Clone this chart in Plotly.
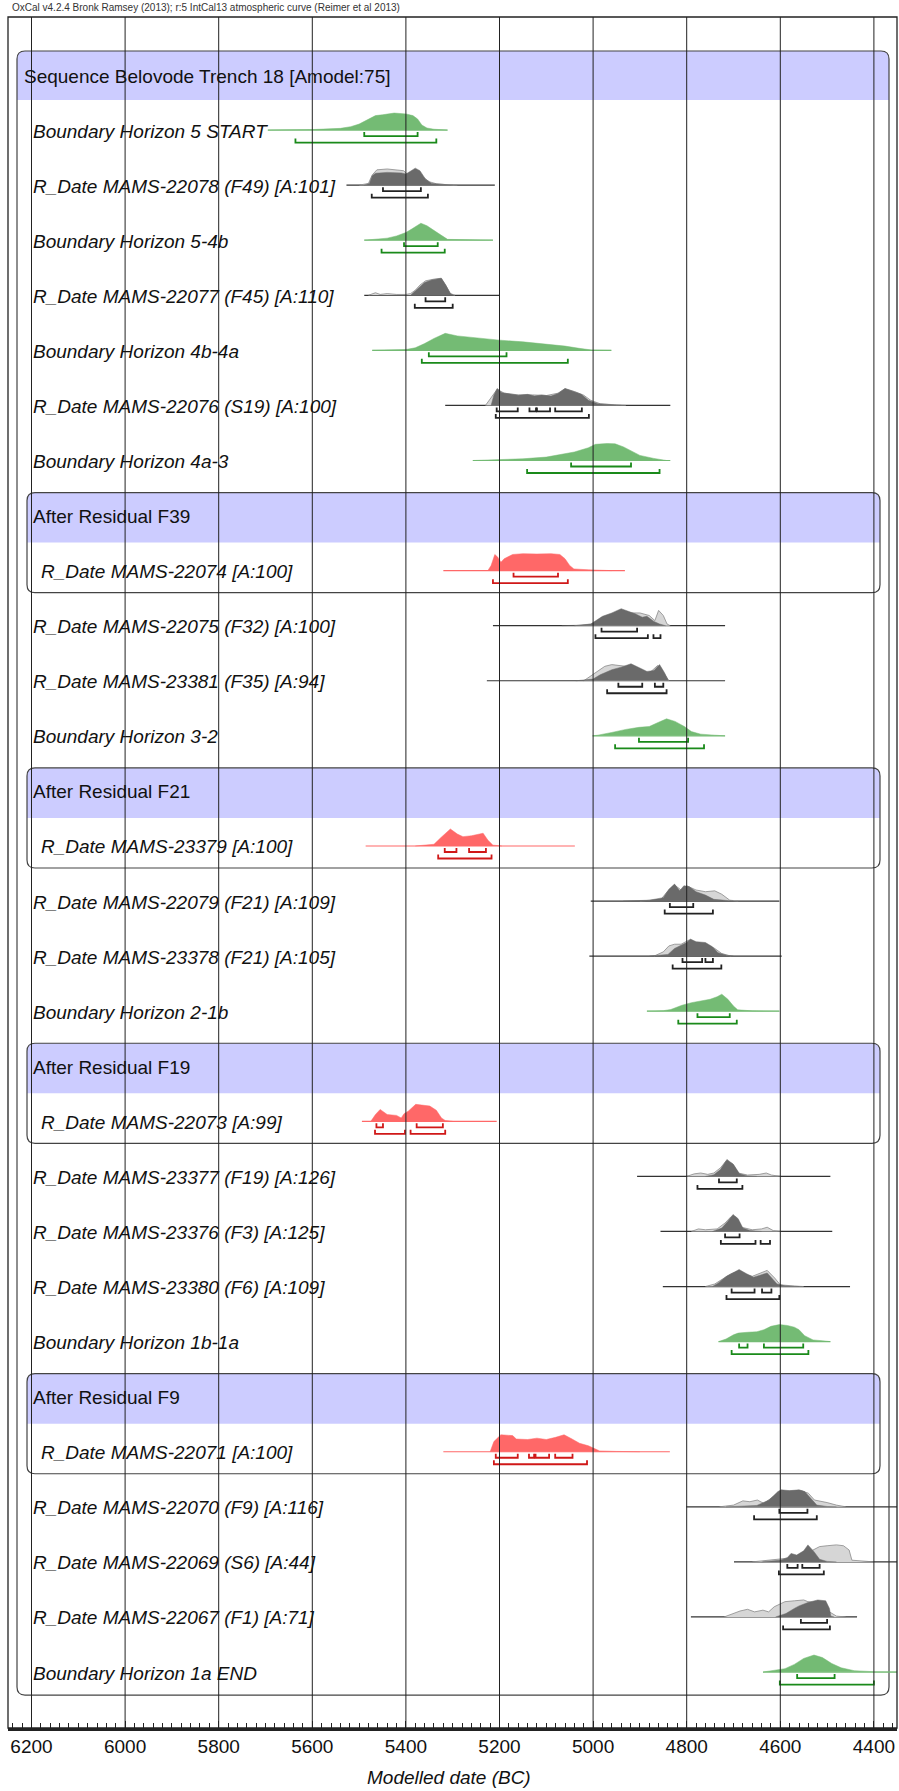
import plotly.graph_objects as go

# ------------------------------------------------------------------ data
slot_labels = [
    "Sequence Belovode Trench 18 [Amodel:75]",
    "Boundary Horizon 5 START",
    "R_Date MAMS-22078 (F49) [A:101]",
    "Boundary Horizon 5-4b",
    "R_Date MAMS-22077 (F45) [A:110]",
    "Boundary Horizon 4b-4a",
    "R_Date MAMS-22076 (S19) [A:100]",
    "Boundary Horizon 4a-3",
    "After Residual F39",
    "R_Date MAMS-22074 [A:100]",
    "R_Date MAMS-22075 (F32) [A:100]",
    "R_Date MAMS-23381 (F35) [A:94]",
    "Boundary Horizon 3-2",
    "After Residual F21",
    "R_Date MAMS-23379 [A:100]",
    "R_Date MAMS-22079 (F21) [A:109]",
    "R_Date MAMS-23378 (F21) [A:105]",
    "Boundary Horizon 2-1b",
    "After Residual F19",
    "R_Date MAMS-22073 [A:99]",
    "R_Date MAMS-23377 (F19) [A:126]",
    "R_Date MAMS-23376 (F3) [A:125]",
    "R_Date MAMS-23380 (F6) [A:109]",
    "Boundary Horizon 1b-1a",
    "After Residual F9",
    "R_Date MAMS-22071 [A:100]",
    "R_Date MAMS-22070 (F9) [A:116]",
    "R_Date MAMS-22069 (S6) [A:44]",
    "R_Date MAMS-22067 (F1) [A:71]",
    "Boundary Horizon 1a END",
]
# seq = sequence header, A = After header, B = boundary, R = date, AR = date inside After
slot_kinds = ["seq", "B", "R", "B", "R", "B", "R", "B",
              "A", "AR", "R", "R", "B",
              "A", "AR", "R", "R", "B",
              "A", "AR", "R", "R", "R", "B",
              "A", "AR", "R", "R", "R", "B"]

# per-item data (one entry per non-header slot, in order)
baseline_range = [
    (5695, 5311), (5527, 5210), (5489, 5214), (5489, 5200), (5472, 4961),
    (5316, 4835), (5257, 4835), (5320, 4932), (5214, 4718), (5227, 4718),
    (5001, 4718), (5486, 5039), (5005, 4602), (5008, 4597), (4885, 4602),
    (5494, 5206), (4906, 4493), (4856, 4489), (4851, 4451), (4732, 4493),
    (5320, 4836), (4801, 4340), (4699, 4340), (4791, 4436), (4637, 4340),
]

post_years = [
    [5695, 5600, 5540, 5518, 5500, 5489, 5475, 5465, 5450, 5425, 5400, 5385, 5375, 5366, 5355, 5340, 5311],
    [5490, 5478, 5472, 5465, 5440, 5410, 5400, 5392, 5380, 5370, 5358, 5345, 5320, 5300],
    [5489, 5470, 5440, 5420, 5400, 5385, 5368, 5355, 5340, 5325, 5311, 5280, 5214],
    [5390, 5380, 5370, 5360, 5345, 5330, 5324, 5315, 5305, 5298],
    [5472, 5420, 5400, 5380, 5360, 5340, 5316, 5290, 5250, 5200, 5150, 5100, 5060, 5030, 5003, 4961],
    [5218, 5212, 5205, 5195, 5180, 5160, 5140, 5125, 5110, 5090, 5075, 5060, 5045, 5025, 5010, 4990, 4960, 4940],
    [5257, 5214, 5150, 5100, 5079, 5040, 5010, 4995, 4970, 4953, 4935, 4919, 4900, 4870, 4850, 4843],
    [5225, 5218, 5210, 5204, 5197, 5190, 5172, 5150, 5120, 5090, 5071, 5060, 5050, 5041, 5010, 4986, 4960],
    [5067, 5030, 5005, 4995, 4980, 4960, 4940, 4925, 4910, 4895, 4885, 4870, 4858, 4845],
    [5037, 5000, 4985, 4960, 4940, 4919, 4900, 4885, 4870, 4858, 4848, 4839],
    [5001, 4990, 4960, 4930, 4902, 4880, 4860, 4843, 4825, 4805, 4790, 4770, 4740, 4718],
    [5380, 5366, 5340, 5325, 5305, 5290, 5278, 5260, 5245, 5235, 5225, 5214, 5195],
    [4936, 4880, 4850, 4838, 4826, 4815, 4806, 4795, 4780, 4760, 4742, 4720, 4700],
    [4880, 4840, 4826, 4810, 4800, 4792, 4780, 4760, 4745, 4733, 4715, 4700],
    [4885, 4850, 4834, 4810, 4790, 4770, 4750, 4735, 4725, 4712, 4700, 4691, 4660, 4602],
    [5475, 5465, 5455, 5440, 5420, 5410, 5404, 5395, 5379, 5365, 5349, 5335, 5324, 5316, 5300],
    [4760, 4742, 4728, 4714, 4700, 4687, 4670, 4650],
    [4745, 4725, 4712, 4701, 4690, 4680, 4665, 4640],
    [4745, 4733, 4715, 4700, 4688, 4672, 4657, 4645, 4628, 4615, 4607, 4590, 4560],
    [4732, 4716, 4700, 4690, 4670, 4650, 4635, 4620, 4602, 4585, 4570, 4560, 4548, 4530, 4510, 4493],
    [5220, 5212, 5197, 5172, 5164, 5140, 5120, 5100, 5080, 5062, 5045, 5029, 5010, 4986, 4950, 4900],
    [4716, 4680, 4650, 4624, 4605, 4598, 4580, 4560, 4548, 4535, 4522, 4500, 4480],
    [4640, 4600, 4585, 4577, 4565, 4550, 4541, 4528, 4516, 4500, 4480],
    [4610, 4588, 4570, 4560, 4541, 4520, 4503, 4495, 4492, 4485],
    [4637, 4613, 4590, 4570, 4550, 4528, 4510, 4490, 4470, 4442, 4420, 4400, 4340],
]
post_dens = [
    [0, 0.03, 0.1, 0.2, 0.35, 0.5, 0.7, 0.85, 0.9, 1.0, 0.95, 0.85, 0.65, 0.3, 0.12, 0.05, 0],
    [0, 0.1, 0.55, 0.7, 0.75, 0.72, 0.65, 0.8, 1.0, 0.85, 0.35, 0.1, 0.03, 0],
    [0, 0.03, 0.12, 0.25, 0.45, 0.7, 1.0, 0.85, 0.55, 0.3, 0.05, 0.02, 0],
    [0, 0.25, 0.5, 0.75, 0.9, 0.95, 1.0, 0.6, 0.1, 0],
    [0, 0.02, 0.05, 0.15, 0.4, 0.7, 1.0, 0.85, 0.72, 0.6, 0.5, 0.38, 0.25, 0.12, 0.02, 0],
    [0, 0.6, 1.0, 0.75, 0.68, 0.6, 0.65, 0.55, 0.62, 0.55, 0.7, 1.0, 0.85, 0.65, 0.3, 0.1, 0.04, 0],
    [0, 0.04, 0.1, 0.2, 0.3, 0.5, 0.75, 0.95, 1.0, 0.98, 0.8, 0.55, 0.3, 0.12, 0.05, 0],
    [0, 0.3, 0.95, 0.8, 0.5, 0.7, 0.95, 1.0, 0.98, 1.0, 0.95, 0.7, 0.3, 0.1, 0.05, 0.02, 0],
    [0, 0.03, 0.1, 0.3, 0.55, 0.75, 1.0, 0.85, 0.7, 0.5, 0.55, 0.25, 0.1, 0],
    [0, 0.1, 0.35, 0.65, 0.8, 1.0, 0.75, 0.55, 0.6, 0.95, 0.5, 0],
    [0, 0.04, 0.2, 0.38, 0.5, 0.55, 0.8, 1.0, 0.85, 0.55, 0.25, 0.1, 0.04, 0],
    [0, 0.03, 0.1, 0.5, 1.0, 0.7, 0.55, 0.6, 0.7, 0.75, 0.35, 0.05, 0],
    [0, 0.05, 0.2, 0.7, 1.0, 0.6, 0.9, 0.85, 0.55, 0.35, 0.1, 0.03, 0],
    [0, 0.1, 0.45, 0.65, 0.8, 1.0, 0.85, 0.8, 0.55, 0.2, 0.05, 0],
    [0, 0.03, 0.1, 0.35, 0.5, 0.58, 0.7, 0.85, 1.0, 0.7, 0.3, 0.08, 0.02, 0],
    [0, 0.4, 0.7, 0.4, 0.35, 0.2, 0.45, 0.6, 1.0, 0.95, 0.9, 0.65, 0.2, 0.05, 0],
    [0, 0.1, 0.4, 1.0, 0.7, 0.15, 0.03, 0],
    [0, 0.2, 0.6, 1.0, 0.75, 0.2, 0.05, 0],
    [0, 0.2, 0.6, 0.8, 1.0, 0.75, 0.55, 0.65, 0.8, 0.4, 0.15, 0.04, 0],
    [0, 0.15, 0.4, 0.5, 0.55, 0.58, 0.7, 0.9, 1.0, 0.95, 0.85, 0.7, 0.35, 0.1, 0.05, 0],
    [0, 0.6, 1.0, 0.95, 0.75, 0.72, 0.8, 0.72, 0.85, 1.0, 0.75, 0.5, 0.35, 0.05, 0.02, 0],
    [0, 0.05, 0.08, 0.4, 0.9, 1.0, 0.95, 1.0, 0.9, 0.5, 0.1, 0.02, 0],
    [0, 0.1, 0.25, 0.5, 0.4, 0.65, 1.0, 0.6, 0.15, 0.03, 0],
    [0, 0.2, 0.5, 0.65, 0.85, 1.0, 0.95, 0.5, 0.05, 0],
    [0, 0.08, 0.2, 0.45, 0.8, 1.0, 0.85, 0.5, 0.25, 0.08, 0.04, 0.02, 0.01],
]

# unmodelled likelihoods (R_Dates outside After groups only)
like_years = [
    None,
    [5500, 5480, 5472, 5462, 5440, 5420, 5405, 5395, 5385, 5375, 5365, 5350, 5335, 5310, 5290],
    None,
    [5480, 5465, 5455, 5440, 5420, 5400, 5390, 5380, 5370, 5358, 5340, 5325, 5315, 5305, 5295],
    None,
    [5230, 5215, 5205, 5190, 5160, 5130, 5100, 5075, 5060, 5040, 5020, 5005, 4985, 4950, 4930],
    None, None,
    [5040, 5000, 4985, 4960, 4940, 4920, 4900, 4880, 4868, 4860, 4850, 4842, 4835],
    [5020, 4995, 4975, 4960, 4944, 4930, 4919, 4900, 4880, 4862, 4850, 4838],
    None, None,
    [4900, 4855, 4840, 4826, 4812, 4800, 4780, 4760, 4740, 4725, 4708, 4690],
    [4870, 4850, 4838, 4826, 4812, 4795, 4780, 4760, 4740, 4725, 4705],
    None, None,
    [4800, 4784, 4770, 4755, 4742, 4728, 4716, 4702, 4690, 4670, 4645, 4630, 4619, 4600],
    [4790, 4775, 4760, 4735, 4718, 4706, 4695, 4683, 4660, 4640, 4628, 4615, 4600],
    [4760, 4740, 4720, 4705, 4690, 4675, 4660, 4640, 4628, 4612, 4600, 4570, 4550],
    None, None,
    [4730, 4700, 4680, 4665, 4649, 4635, 4620, 4600, 4575, 4555, 4540, 4527, 4500, 4480, 4460],
    [4660, 4620, 4590, 4560, 4540, 4530, 4516, 4500, 4480, 4465, 4453, 4447, 4430, 4400],
    [4720, 4686, 4670, 4655, 4637, 4625, 4613, 4590, 4570, 4550, 4541, 4520, 4505, 4495, 4480, 4460],
    None,
]
like_dens = [
    None,
    [0, 0.1, 0.6, 0.9, 0.95, 0.9, 0.85, 0.6, 0.75, 0.8, 0.5, 0.2, 0.08, 0.02, 0],
    None,
    [0, 0.15, 0.05, 0.1, 0.05, 0.05, 0.1, 0.3, 0.6, 0.85, 0.95, 1.0, 0.6, 0.1, 0],
    None,
    [0, 0.55, 0.95, 0.72, 0.62, 0.62, 0.58, 0.72, 0.98, 0.82, 0.6, 0.3, 0.1, 0.03, 0],
    None, None,
    [0, 0.1, 0.4, 0.7, 0.9, 0.75, 0.75, 0.6, 0.3, 0.9, 0.6, 0.1, 0],
    [0, 0.5, 0.85, 0.95, 0.9, 0.85, 0.9, 0.7, 0.45, 0.9, 0.5, 0],
    None, None,
    [0, 0.1, 0.6, 0.95, 0.65, 0.9, 0.65, 0.55, 0.6, 0.4, 0.05, 0],
    [0, 0.25, 0.6, 0.7, 0.7, 0.95, 0.8, 0.7, 0.45, 0.15, 0],
    None, None,
    [0, 0.15, 0.2, 0.12, 0.2, 0.5, 0.9, 0.75, 0.2, 0.08, 0.12, 0.2, 0.08, 0],
    [0, 0.15, 0.1, 0.15, 0.5, 0.85, 0.85, 0.25, 0.1, 0.15, 0.25, 0.05, 0],
    [0, 0.15, 0.5, 0.75, 0.9, 0.7, 0.6, 0.8, 0.95, 0.5, 0.1, 0.03, 0],
    None, None,
    [0, 0.1, 0.35, 0.3, 0.4, 0.2, 0.5, 0.9, 0.95, 0.95, 0.8, 0.4, 0.25, 0.1, 0],
    [0, 0.1, 0.2, 0.35, 0.55, 0.7, 0.9, 0.95, 1.0, 0.95, 0.7, 0.1, 0.05, 0],
    [0, 0.35, 0.45, 0.3, 0.4, 0.3, 0.6, 0.9, 0.95, 1.0, 0.9, 0.85, 0.8, 0.3, 0.05, 0],
    None,
]

range68 = [
    [(5489, 5375)], [(5449, 5368)], [(5404, 5332)], [(5358, 5316)], [(5351, 5185)],
    [(5206, 5161), (5136, 5122), (5120, 5092), (5081, 5024)], [(5047, 4919)],
    [(5170, 5075)], [(4982, 4906)], [(4946, 4895), (4868, 4850)], [(4902, 4797)],
    [(5317, 5292), (5265, 5229)], [(4836, 4786)], [(4809, 4767), (4760, 4744)], [(4777, 4708)],
    [(5463, 5449), (5377, 5321)], [(4731, 4693)], [(4718, 4687)],
    [(4704, 4655), (4639, 4619)], [(4688, 4670), (4635, 4551)],
    [(5208, 5161), (5137, 5126), (5123, 5094), (5081, 5044)], [(4602, 4542)],
    [(4585, 4563), (4553, 4516)], [(4556, 4500)], [(4564, 4484)],
]
range95 = [
    [(5636, 5335)], [(5473, 5353)], [(5452, 5317)], [(5381, 5300)], [(5366, 5054)],
    [(5208, 5009)], [(5141, 4858)],
    [(5214, 5054)], [(4995, 4883), (4871, 4856)], [(4970, 4843)], [(4953, 4763)],
    [(5331, 5217)], [(4847, 4744)], [(4830, 4726)], [(4818, 4693)],
    [(5466, 5402), (5390, 5316)], [(4777, 4681)], [(4727, 4653), (4642, 4622)],
    [(4715, 4602)], [(4704, 4540)],
    [(5212, 5013)], [(4656, 4522)], [(4603, 4507)], [(4594, 4494)], [(4601, 4400)],
]

tick_years = [6200, 6000, 5800, 5600, 5400, 5200, 5000, 4800, 4600, 4400]
title_text = "OxCal v4.2.4 Bronk Ramsey (2013); r:5 IntCal13 atmospheric curve (Reimer et al 2013)"
x_title = "Modelled date (BC)"

# ------------------------------------------------------------------ layout constants (pixels)
FIG_W, FIG_H = 899, 1791
PL, PR, PT, PB = 8, 897, 17, 1728
X6200_PX, PX_PER_200 = 31.5, 93.6
SLOT0_PX, SLOT_PX = 76.0, 55.07
PEAK_PX = 17.0

x_left = 6200 + (X6200_PX - PL) / PX_PER_200 * 200
x_right = 6200 - (PR - X6200_PX) / PX_PER_200 * 200
y_bottom = (PB - SLOT0_PX) / SLOT_PX
y_top = (PT - SLOT0_PX) / SLOT_PX


def dy(px):
    return px / SLOT_PX


def paper_x(px):
    return (px - PL) / (PR - PL)


GREEN_FILL, GREEN_LINE = "#74bb74", "#1a8a1a"
RED_FILL, RED_LINE = "#ff6868", "#d01818"
DARK_FILL, DARK_LINE = "#6a6a6a", "#222222"
LIGHT_FILL, LIGHT_LINE = "#d6d6d6", "#8a8a8a"
BAND = "#ccccff"
FONT = "Liberation Sans, Arial, Helvetica, sans-serif"

fig = go.Figure()
shapes = []
annotations = []


def rounded_box(x0, x1, y0, y1, r=8):
    rx = r / (PR - PL)
    ry = dy(r)
    return (f"M {x0+rx},{y0} L {x1-rx},{y0} Q {x1},{y0} {x1},{y0+ry} "
            f"L {x1},{y1-ry} Q {x1},{y1} {x1-rx},{y1} L {x0+rx},{y1} "
            f"Q {x0},{y1} {x0},{y1-ry} L {x0},{y0+ry} Q {x0},{y0} {x0+rx},{y0} Z")


def band_path(x0, x1, y0, yb, r=8):
    rx = r / (PR - PL)
    ry = dy(r)
    return (f"M {x0},{yb} L {x0},{y0+ry} Q {x0},{y0} {x0+rx},{y0} "
            f"L {x1-rx},{y0} Q {x1},{y0} {x1},{y0+ry} L {x1},{yb} Z")


# boxes
n_slots = len(slot_labels)
seq_x0, seq_x1 = paper_x(17), paper_x(889)
shapes.append(dict(type="path", xref="paper", yref="y", layer="below",
                   path=band_path(seq_x0, seq_x1, 0 - dy(25), 0 + dy(24)),
                   fillcolor=BAND, line=dict(width=0)))
shapes.append(dict(type="path", xref="paper", yref="y", layer="below",
                   path=rounded_box(seq_x0, seq_x1, 0 - dy(25), (n_slots - 1) + dy(22)),
                   line=dict(color="#444444", width=1.2)))
sub_x0, sub_x1 = paper_x(27), paper_x(880)
for s, k in enumerate(slot_kinds):
    if k == "A":
        shapes.append(dict(type="path", xref="paper", yref="y", layer="below",
                           path=band_path(sub_x0, sub_x1, s - dy(24), s + dy(26)),
                           fillcolor=BAND, line=dict(width=0)))
        shapes.append(dict(type="path", xref="paper", yref="y", layer="below",
                           path=rounded_box(sub_x0, sub_x1, s - dy(24), s + 1 + dy(21)),
                           line=dict(color="#444444", width=1.2)))

# labels
for s, (lab, k) in enumerate(zip(slot_labels, slot_kinds)):
    if k == "seq":
        xp, txt = 22, lab
    elif k == "A":
        xp, txt = 31, lab
    elif k == "AR":
        xp, txt = 39, f"<i>{lab}</i>"
    else:
        xp, txt = 31, f"<i>{lab}</i>"
    annotations.append(dict(x=paper_x(xp), y=s, xref="paper", yref="y", text=txt,
                            showarrow=False, xanchor="left", yanchor="middle",
                            font=dict(family=FONT, size=19, color="#111111")))

# distributions
item_slots = [s for s, k in enumerate(slot_kinds) if k in ("B", "R", "AR")]
for i, s in enumerate(item_slots):
    k = slot_kinds[s]
    if k == "B":
        fill, lcol, bcol = GREEN_FILL, GREEN_FILL, GREEN_LINE
    elif k == "AR":
        fill, lcol, bcol = RED_FILL, RED_FILL, RED_LINE
    else:
        fill, lcol, bcol = DARK_FILL, "#333333", DARK_LINE
    base = s - dy(1)
    b0, b1 = baseline_range[i]
    fig.add_trace(go.Scatter(x=[b0, b1], y=[base, base], mode="lines",
                             line=dict(color=lcol, width=1.2), hoverinfo="skip"))
    if like_years[i] is not None:
        fig.add_trace(go.Scatter(
            x=like_years[i], y=[base - dy(PEAK_PX) * h for h in like_dens[i]],
            mode="lines", fill="toself", fillcolor=LIGHT_FILL,
            line=dict(color=LIGHT_LINE, width=0.8), hoverinfo="skip"))
    fig.add_trace(go.Scatter(
        x=post_years[i], y=[base - dy(PEAK_PX) * h for h in post_dens[i]],
        mode="lines", fill="toself", fillcolor=fill,
        line=dict(color=fill, width=0.5), hoverinfo="skip"))
    # brackets
    for ranges, off in ((range68[i], 6), (range95[i], 12.5)):
        bx, by = [], []
        yb = base + dy(off)
        for a, b in ranges:
            bx += [a, a, b, b, None]
            by += [yb - dy(4), yb, yb, yb - dy(4), None]
        fig.add_trace(go.Scatter(x=bx, y=by, mode="lines",
                                 line=dict(color=bcol, width=1.8), hoverinfo="skip"))

# gridlines above everything
for t in tick_years:
    shapes.append(dict(type="line", xref="x", yref="paper", x0=t, x1=t, y0=0, y1=1,
                       layer="above", line=dict(color="#222222", width=1)))
# frame
shapes.append(dict(type="rect", xref="paper", yref="paper", x0=0, x1=1, y0=0, y1=1,
                   layer="above", line=dict(color="#222222", width=1.3)))

annotations.append(dict(x=paper_x(10), y=1 + (PT - 8) / (PB - PT), xref="paper", yref="paper",
                        text=title_text, showarrow=False, xanchor="left", yanchor="middle",
                        font=dict(family=FONT, size=10, color="#333333")))
annotations.append(dict(x=paper_x(449), y=-(1777 - PB) / (PB - PT), xref="paper", yref="paper",
                        text=f"<i>{x_title}</i>", showarrow=False, xanchor="center",
                        yanchor="middle", font=dict(family=FONT, size=19, color="#111111")))

fig.update_layout(
    width=FIG_W, height=FIG_H,
    margin=dict(l=PL, r=FIG_W - PR, t=PT, b=FIG_H - PB, pad=0),
    paper_bgcolor="white", plot_bgcolor="white",
    showlegend=False,
    shapes=shapes, annotations=annotations,
    xaxis=dict(range=[x_left, x_right], tickvals=tick_years,
               ticktext=[str(t) for t in tick_years],
               ticks="inside", ticklen=7, tickcolor="#222222", tickwidth=1,
               showgrid=False, zeroline=False,
               showline=True, linecolor="#222222", linewidth=2.5,
               tickfont=dict(family=FONT, size=19, color="#111111"),
               minor=dict(dtick=20, tick0=4400, ticks="inside", ticklen=5,
                          tickcolor="#222222", tickwidth=1, showgrid=False)),
    yaxis=dict(range=[y_bottom, y_top], showgrid=False, zeroline=False,
               showticklabels=False, ticks="", showline=False),
)

fig.write_html("out.html",
               config={"displayModeBar": False, "staticPlot": True},
               post_script="document.body.style.margin='0px';"
                           "document.body.style.overflow='hidden';")
